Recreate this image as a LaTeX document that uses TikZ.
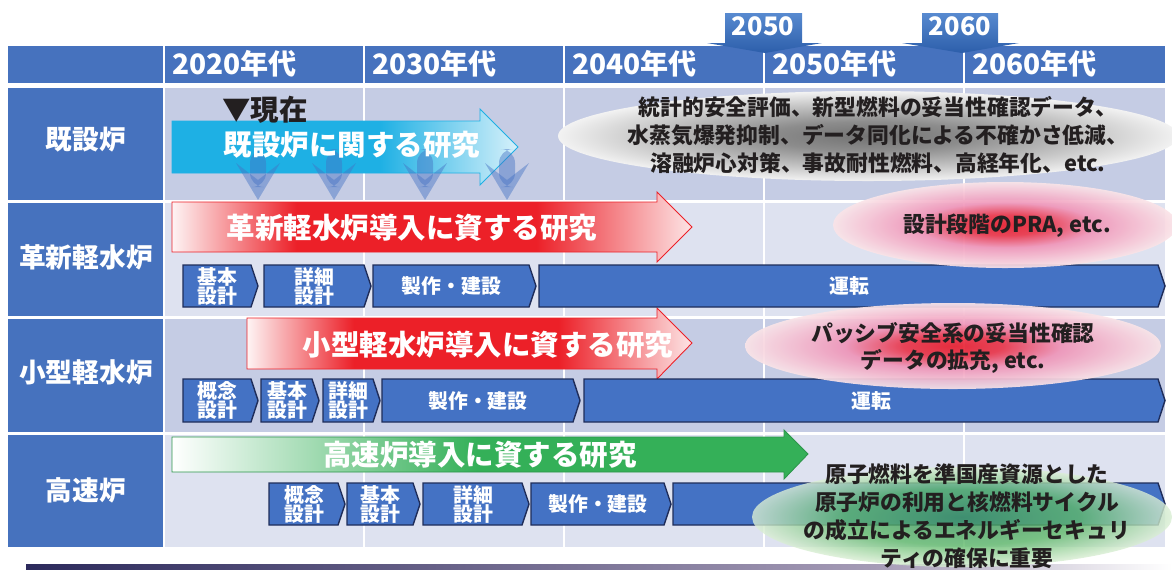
\documentclass[tikz,border=0pt]{standalone}
\usepackage{fontspec}
\setmainfont{Noto Sans CJK JP}
\usetikzlibrary{positioning}

\definecolor{hdrblue}{RGB}{70,114,190}
\definecolor{rowdark}{RGB}{197,204,228}
\definecolor{rowlight}{RGB}{222,226,240}
\definecolor{stageblue}{RGB}{68,114,196}
\definecolor{stageedge}{RGB}{31,45,90}
\definecolor{cyanarr}{RGB}{30,176,228}
\definecolor{redarr}{RGB}{236,32,40}
\definecolor{greenarr}{RGB}{52,176,88}
\definecolor{inktext}{RGB}{35,31,32}
\definecolor{calltop}{RGB}{88,138,208}
\definecolor{callbot}{RGB}{44,94,170}
\definecolor{barnavy}{RGB}{44,42,92}
\definecolor{barmauve}{RGB}{165,155,182}
\definecolor{pkcore}{RGB}{232,32,48}
\definecolor{pkmid}{RGB}{240,150,185}
\definecolor{pkedge}{RGB}{250,228,232}
\definecolor{gncore}{RGB}{62,150,92}
\definecolor{gnmid}{RGB}{96,186,106}
\definecolor{gnedge}{RGB}{218,238,212}

\pgfdeclarehorizontalshading{cyanfade}{100bp}{color(0bp)=(cyanarr); color(55bp)=(cyanarr); color(75bp)=(cyanarr!18); color(100bp)=(cyanarr!18)}
\pgfdeclarehorizontalshading{redfade}{100bp}{color(0bp)=(white); color(25bp)=(white!95!redarr); color(37bp)=(redarr); color(60bp)=(redarr); color(75bp)=(redarr!12); color(100bp)=(redarr!12)}
\pgfdeclarehorizontalshading{greenfade}{100bp}{color(0bp)=(white); color(25bp)=(white); color(49bp)=(greenarr); color(100bp)=(greenarr)}
\pgfdeclarehorizontalshading{barfade}{100bp}{color(0bp)=(barnavy); color(25bp)=(barnavy); color(62bp)=(barmauve); color(75bp)=(white); color(100bp)=(white)}
\pgfdeclareradialshading{greyglow}{\pgfpoint{0bp}{0bp}}{color(0bp)=(black!55); color(8bp)=(black!45); color(18bp)=(black!22); color(25bp)=(black!5); color(50bp)=(black!5)}
\pgfdeclareradialshading{pinkglow}{\pgfpoint{0bp}{0bp}}{color(0bp)=(pkcore); color(6bp)=(pkcore!80!pkmid); color(13bp)=(pkmid); color(25bp)=(pkedge); color(50bp)=(pkedge)}
\pgfdeclareradialshading{greenglow}{\pgfpoint{0bp}{0bp}}{color(0bp)=(gncore); color(14bp)=(gnmid); color(25bp)=(gnedge); color(50bp)=(gnedge)}

\tikzset{hdrtext/.style={text=white, font=\fontsize{16}{18}\selectfont\bfseries, anchor=west, inner sep=0pt},
  rowlabel/.style={text=white, font=\fontsize{15.2}{18}\selectfont\bfseries, inner sep=0pt},
  stagebox/.style={fill=stageblue, draw=stageedge, line width=0.8pt, line join=miter},
  stagetext/.style={text=white, font=\fontsize{11.3}{10.8}\selectfont\bfseries, align=center, inner sep=0pt},
  bandtext/.style={text=white, font=\fontsize{16.2}{19}\selectfont\bfseries, inner sep=0pt},
  notetext/.style={text=inktext, font=\fontsize{12.4}{15.9}\selectfont\bfseries, align=center, inner sep=0pt},
  callout/.style={top color=calltop, bottom color=callbot},
  downarr/.style={fill=stageblue, fill opacity=0.45}}

% name, x1, x2, y1, y2, label
\newcommand{\stage}[6]{%
  \draw[stagebox] (#2,#4) -- ({#3-7},#4) -- (#3,{(#4+#5)/2}) -- ({#3-7},#5) -- (#2,#5) -- cycle;
  \node[stagetext] (#1) at ({(#2+#3)/2-3},{(#4+#5)/2}) {#6};}

\begin{document}
\begin{tikzpicture}[x=0.02cm, y=-0.02cm]
    \useasboundingbox (0,0) rectangle (1172,569);
    % table
    \fill[hdrblue] (8,46) rectangle (163,83);
    \fill[hdrblue] (165,46) rectangle (1165,83);
    \fill[hdrblue] (8,88) rectangle (163,200);
    \fill[rowdark] (165,88) rectangle (1165,200);
    \fill[hdrblue] (8,203) rectangle (163,316);
    \fill[rowlight] (165,203) rectangle (1165,316);
    \fill[hdrblue] (8,319) rectangle (163,432);
    \fill[rowdark] (165,319) rectangle (1165,432);
    \fill[hdrblue] (8,435) rectangle (163,547);
    \fill[rowlight] (165,435) rectangle (1165,547);
    \foreach \cx in {364,564,764,964} \draw[white, line width=1.1pt] (\cx,46) -- (\cx,547);

    % milestones
    \path[callout] (725,13) -- (802,13) -- (802,43) -- (822,43) -- (765,53) -- (707,43) -- (725,43) -- cycle;
    \node[hdrtext, anchor=center, font=\fontsize{14.5}{16}\selectfont\bfseries] (m2050) at (763,26) {2050};
    \path[callout] (922,13) -- (998,13) -- (998,43) -- (1019,43) -- (962,53) -- (902,43) -- (922,43) -- cycle;
    \node[hdrtext, anchor=center, font=\fontsize{14.5}{16}\selectfont\bfseries] (m2060) at (960,26) {2060};

    \foreach \i/\yr in {0/2020,1/2030,2/2040,3/2050,4/2060}
        \node[hdrtext] (h\yr) at ({172+200*\i},64) {{\yr}年代};

    \node[rowlabel] (lab1) at (86,140) {既設炉};
    \node[rowlabel] (lab2) at (86,257) {革新軽水炉};
    \node[rowlabel] (lab3) at (86,372) {小型軽水炉};
    \node[rowlabel] (lab4) at (86,490) {高速炉};

    % existing reactors
    \shadedraw[shading=cyanfade, draw=cyanarr, line width=0.5pt] (172,121) -- (480,121) -- (480,109) -- (518,147) -- (480,185) -- (480,173) -- (172,173) -- cycle;
    \foreach \dx in {258,334,425,507} {
        \fill[downarr, rounded corners=8pt] ({\dx-8},149) rectangle ({\dx+8},187);
        \fill[downarr] ({\dx-22},163) -- (\dx,180) -- ({\dx+22},163) -- (\dx,200) -- cycle;
    }
    \node[bandtext] (band1) at (352,145) {既設炉に関する研究};
    \node[text=inktext, font=\fontsize{16.2}{19}\selectfont\bfseries, inner sep=0pt] (now) at (265,110) {▼現在};

    % research bands
    \shadedraw[shading=redfade, draw=redarr, line width=0.5pt] (172,202) -- (657,202) -- (657,192) -- (692,227) -- (657,262) -- (657,252) -- (172,252) -- cycle;
    \node[bandtext] (band2) at (412,228) {革新軽水炉導入に資する研究};
    \shadedraw[shading=redfade, draw=redarr, line width=0.5pt] (247,318) -- (657,318) -- (657,308) -- (692,343) -- (657,379) -- (657,369) -- (247,369) -- cycle;
    \node[bandtext] (band3) at (488,345) {小型軽水炉導入に資する研究};
    \shadedraw[shading=greenfade, draw=greenarr!85!black, line width=0.5pt] (172,437) -- (784,437) -- (784,430) -- (808,454) -- (784,479) -- (784,472) -- (172,472) -- cycle;
    \node[bandtext] (band4) at (480,455) {高速炉導入に資する研究};

    % stages
    \stage{a1}{183}{258}{265}{307}{基本\\設計}
    \stage{a2}{264}{371}{265}{307}{詳細\\設計}
    \stage{a3}{373}{536}{265}{307}{製作・建設}
    \stage{a4}{539}{1165}{265}{307}{運転}
    \stage{b1}{183}{258}{379}{422}{概念\\設計}
    \stage{b2}{261}{319}{379}{422}{基本\\設計}
    \stage{b3}{323}{380}{379}{422}{詳細\\設計}
    \stage{b4}{382}{580}{379}{422}{製作・建設}
    \stage{b5}{584}{1165}{379}{422}{運転}
    \stage{c1}{269}{345}{483}{525}{概念\\設計}
    \stage{c2}{347}{420}{483}{525}{基本\\設計}
    \stage{c3}{423}{529}{483}{525}{詳細\\設計}
    \stage{c4}{531}{671}{483}{525}{製作・建設}
    \stage{c5}{673}{1165}{483}{525}{}

    \shade[shading=barfade] (26,564) rectangle (1172,570);

    % notes
    \shade[shading=greyglow] (868,136) ellipse [x radius=310, y radius=45];
    \node[notetext] (note1) at (878,135) {統計的安全評価、新型燃料の妥当性確認データ、\\水蒸気爆発抑制、データ同化による不確かさ低減、\\溶融炉心対策、事故耐性燃料、高経年化、etc.};
    \shade[shading=pinkglow, fill opacity=0.92] (1005,225) ellipse [x radius=172, y radius=43];
    \node[notetext] (note2) at (1007,226) {設計段階のPRA, etc.};
    \shade[shading=pinkglow, fill opacity=0.92] (953,346) ellipse [x radius=208, y radius=43];
    \node[notetext, font=\fontsize{12.4}{15.3}\selectfont\bfseries] (note3) at (953,348) {パッシブ安全系の妥当性確認\\データの拡充, etc.};
    \shade[shading=greenglow, fill opacity=0.8] (962,517) ellipse [x radius=210, y radius=50];
    \node[notetext] (note4) at (967,516) {原子燃料を準国産資源とした\\原子炉の利用と核燃料サイクル\\の成立によるエネルギーセキュリ\\ティの確保に重要};
\end{tikzpicture}
\end{document}
